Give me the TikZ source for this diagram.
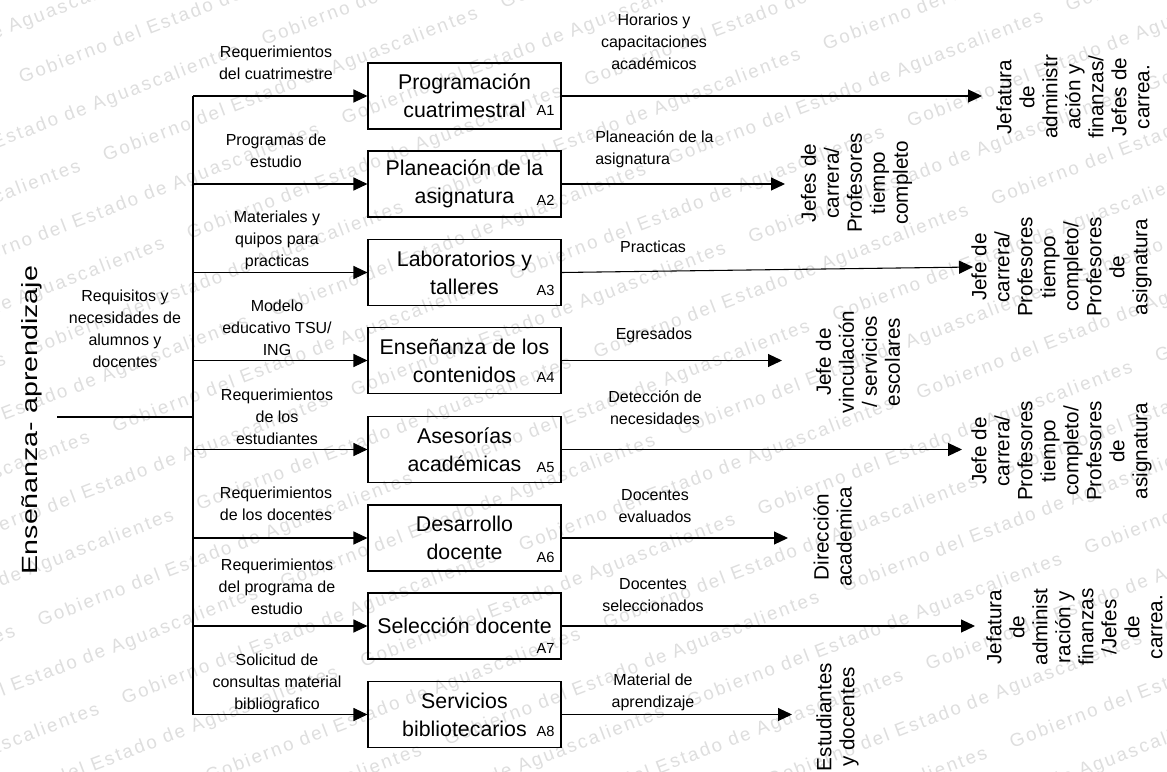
\documentclass[tikz,border=0pt]{standalone}
\usepackage{fontspec}
\setmainfont{Liberation Sans}
\newfontfamily\widefont[FakeStretch=1.3]{Liberation Sans}
\newfontfamily\wmfont[LetterSpace=12]{Liberation Sans}
\usetikzlibrary{arrows.meta}

% one row of the background watermark
\newcommand\wmunit{Gobierno del Estado de Aguascalientes\quad\ }
\newcommand\wmline{\wmunit\wmunit\wmunit\wmunit\wmunit\wmunit\wmunit}

\begin{document}
\begin{tikzpicture}[x=0.75pt,y=-0.75pt,
  conn/.style={line width=0.8pt},
  flow/.style={conn,-{Triangle[length=10.5pt,width=9.75pt]}},
  proc/.style={draw,line width=0.8pt,minimum width=144.75pt,minimum height=49.5pt,
    inner sep=0pt,align=center,font=\fontsize{16}{21}\selectfont},
  tagx/.style={inner sep=0pt,font=\fontsize{11}{13}\selectfont},
  lab/.style={inner sep=0pt,align=center,font=\fontsize{12}{16.5}\selectfont},
  dest/.style={inner sep=0pt,align=center,rotate=90,font=\fontsize{15.5}{17.25}\selectfont},
  wmark/.style={inner sep=0pt,rotate=21,text=black!13,font=\wmfont\fontsize{14}{16}\selectfont}
]
\useasboundingbox (0,0) rectangle (1167,771);
\fill[white] (0,0) rectangle (1167,771);

% watermark rows, each one slid along its own direction
\begin{scope}
  \clip (0,0) rectangle (1167,771);
  \foreach \k in {0,...,25} {
    \pgfmathsetmacro\sh{mod(\k*170,430)}
    \node[wmark,anchor=west] (w\k) at ({-60-\sh*0.9336},{\k*55+\sh*0.3584}) {\wmline};
  }
\end{scope}

% process title
\node[anchor=base,rotate=90,inner sep=0pt,font=\widefont\fontsize{16.5}{20}\selectfont]
  (topic) at (37,420) {Enseñanza- aprendizaje};

\coordinate (start) at (57,417);
\coordinate (join) at (193,417);
\draw[conn] (start) -- (join);

\node[lab] (req) at (125,328.5) {Requisitos y\\necesidades de\\alumnos y\\docentes};

% activities
\node[proc] (a1) at (464.5,96)    {Programación\\cuatrimestral};
\node[proc] (a2) at (464.5,184)   {Planeación de la\\asignatura};
\node[proc] (a3) at (464.5,272.5) {Laboratorios y\\talleres};
\node[proc] (a4) at (464.5,360.5) {Enseñanza de los\\contenidos};
\node[proc] (a5) at (464.5,449.5) {Asesorías\\académicas};
\node[proc] (a6) at (464.5,538)   {Desarrollo\\docente};
\node[proc] (a7) at (464.5,626)   {Selección docente};
\node[proc] (a8) at (464.5,714.5) {Servicios\\bibliotecarios};

\node[tagx] (t1) at ([xshift=-12pt,yshift=14pt]a1.south east) {A1};
\node[tagx] (t2) at ([xshift=-12pt,yshift=12.5pt]a2.south east) {A2};
\node[tagx] (t3) at ([xshift=-12pt,yshift=11.5pt]a3.south east) {A3};
\node[tagx] (t4) at ([xshift=-12pt,yshift=12.5pt]a4.south east) {A4};
\node[tagx] (t5) at ([xshift=-12pt,yshift=11.5pt]a5.south east) {A5};
\node[tagx] (t6) at ([xshift=-12pt,yshift=10.5pt]a6.south east) {A6};
\node[tagx] (t7) at ([xshift=-12pt,yshift=8.5pt]a7.south east) {A7};
\node[tagx] (t8) at ([xshift=-12pt,yshift=12.5pt]a8.south east) {A8};

% inputs
\draw[conn] (a1.west -| join) -- (a8.west -| join);
\foreach \i in {1,...,8} \draw[flow] (a\i.west -| join) -- (a\i.west);

\node[lab] (l1) at (276,62.5) {Requerimientos\\del cuatrimestre};
\node[lab] (l2) at (276,150.5) {Programas de\\estudio};
\node[lab] (l3) at (277,240)  {Materiales y\\quipos para\\practicas};
\node[lab] (l4) at (277,328)  {Modelo\\educativo TSU/\\ING};
\node[lab] (l5) at (277,417)  {Requerimientos\\de los\\estudiantes};
\node[lab] (l6) at (276,503.5) {Requerimientos\\de los docentes};
\node[lab] (l7) at (277,587)  {Requerimientos\\del programa de\\estudio};
\node[lab] (l8) at (277,683)  {Solicitud de\\consultas material\\bibliografico};

% outputs
\coordinate (e1) at (982,96);
\coordinate (e2) at (785,184);
\coordinate (e3) at (973,267);
\coordinate (e4) at (782,360.5);
\coordinate (e5) at (962,449.5);
\coordinate (e6) at (788,538);
\coordinate (e7) at (975,626);
\coordinate (e8) at (792,714.5);
\foreach \i in {1,...,8} \draw[flow] (a\i.east) -- (e\i);

\node[lab] (o1) at (654,42) {Horarios y\\capacitaciones\\académicos};
\node[lab,align=left,anchor=west] (o2) at (595,149.5) {Planeación de la\\asignatura};
\node[lab] (o3) at (653,247) {Practicas};
\node[lab] (o4) at (654,335) {Egresados};
\node[lab] (o5) at (655,407.5) {Detección de\\necesidades};
\node[lab] (o6) at (655,506) {Docentes\\evaluados};
\node[lab] (o7) at (653,595) {Docentes\\seleccionados};
\node[lab] (o8) at (653,692) {Material de\\aprendizaje};

% receivers
\node[dest] (d1) at (1073,97) {Jefatura\\de\\administr\\ación y\\finanzas/\\Jefes de\\carrea.};
\node[dest] (d2) at (856.5,183) {Jefes de\\carrera/\\Profesores\\tiempo\\completo};
\node[dest] (d3) at (1061.5,267) {Jefe de\\carrera/\\Profesores\\tiempo\\completo/\\Profesores\\de\\asignatura};
\node[dest] (d4) at (858,362) {Jefe de\\vinculación\\/ servicios\\escolares};
\node[dest] (d5) at (1061.5,451) {Jefe de\\carrera/\\Profesores\\tiempo\\completo/\\Profesores\\de\\asignatura};
\node[dest] (d6) at (832.5,537) {Dirección\\academica};
\node[dest] (d7) at (1074.5,627) {Jefatura\\de\\administ\\ración y\\finanzas\\/Jefes\\de\\carrea.};
\node[dest] (d8) at (837.5,717) {Estudiantes\\y docentes};
\end{tikzpicture}
\end{document}
